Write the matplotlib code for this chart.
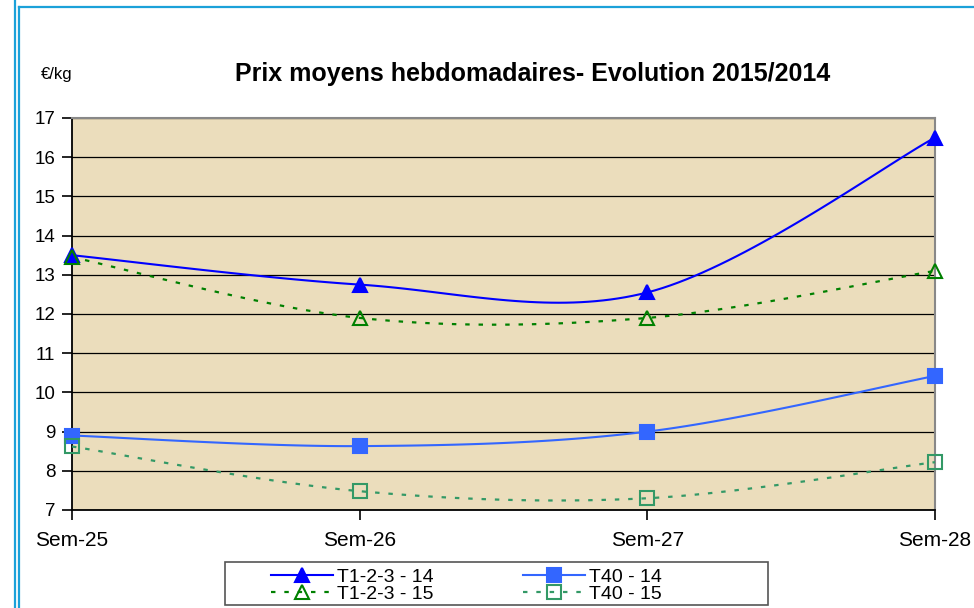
import numpy as np
import matplotlib.pyplot as plt
from matplotlib.lines import Line2D
from matplotlib.patches import Rectangle

plt.rcParams['font.family'] = ['Liberation Sans', 'DejaVu Sans']

# Data
weeks = ['Sem-25', 'Sem-26', 'Sem-27', 'Sem-28']
t123_14 = [13.5, 12.75, 12.55, 16.5]
t40_14 = [8.9, 8.63, 9.0, 10.42]
t123_15 = [13.45, 11.9, 11.9, 13.1]
t40_15 = [8.62, 7.48, 7.3, 8.22]


def smooth(xs, ys, n=40):
    # Excel-like smoothing: Catmull-Rom style bezier between points
    p = np.column_stack([xs, ys]).astype(float)
    p_ext = np.vstack([p[0], p, p[-1]])
    out = []
    for i in range(len(p) - 1):
        p0, p1, p2, p3 = p_ext[i], p_ext[i + 1], p_ext[i + 2], p_ext[i + 3]
        c1 = p1 + (p2 - p0) / 6
        c2 = p2 - (p3 - p1) / 6
        t = np.linspace(0, 1, n)[:, None]
        seg = ((1 - t) ** 3) * p1 + 3 * ((1 - t) ** 2) * t * c1 + 3 * (1 - t) * t ** 2 * c2 + t ** 3 * p2
        out.append(seg if i == 0 else seg[1:])
    out = np.vstack(out)
    return out[:, 0], out[:, 1]


x = np.arange(len(weeks))

fig = plt.figure(figsize=(9.74, 6.08), dpi=100)
ax = fig.add_axes([72 / 974, 98 / 608, (935 - 72) / 974, (510 - 118) / 608])
ax.set_facecolor('#EBDDBC')

series = [
    (t123_14, '#0000FF', '-', '^', '#0000FF', 'T1-2-3 - 14', 1.5),
    (t123_15, '#008000', (0, (2, 4)), '^', 'none', 'T1-2-3 - 15', 1.6),
    (t40_14, '#3366FF', '-', 's', '#3366FF', 'T40 - 14', 1.5),
    (t40_15, '#339966', (0, (2, 4)), 's', 'none', 'T40 - 15', 1.6),
]

handles = []
for ys, col, ls, mk, fc, lab, lw in series:
    sx, sy = smooth(x, ys)
    ax.plot(sx, sy, color=col, linestyle=ls, linewidth=lw, zorder=3, clip_on=False)
    ax.plot(x, ys, linestyle='none', marker=mk, markersize=10,
            markerfacecolor=fc, markeredgecolor=col, markeredgewidth=1.5,
            zorder=4, clip_on=False)
    handles.append(Line2D([], [], color=col, linestyle=ls, linewidth=lw, marker=mk,
                          markersize=10, markerfacecolor=fc, markeredgecolor=col,
                          markeredgewidth=1.5, label=lab))

ax.set_xlim(0, 3)
ax.set_ylim(7, 17)
ax.set_yticks(range(7, 18))
ax.set_xticks(x)
ax.set_xticklabels(weeks)
ax.yaxis.grid(True, color='black', linewidth=0.9)
ax.set_axisbelow(True)
ax.tick_params(axis='both', direction='out', length=7, width=1.2, color='black')
ax.tick_params(axis='x', labelsize=15, pad=8)
ax.tick_params(axis='y', labelsize=13.5, pad=5)

ax.spines['left'].set_color('black')
ax.spines['left'].set_linewidth(1.3)
ax.spines['bottom'].set_color('black')
ax.spines['bottom'].set_linewidth(1.3)
ax.spines['top'].set_color('#888888')
ax.spines['right'].set_color('#888888')
ax.spines['top'].set_linewidth(1.5)
ax.spines['right'].set_linewidth(1.5)

fig.text(533 / 974, 1 - 74 / 608, 'Prix moyens hebdomadaires- Evolution 2015/2014',
         ha='center', va='center', fontsize=18, fontweight='bold')
fig.text(41 / 974, 1 - 74 / 608, '€/kg', ha='left', va='center', fontsize=12)

# legend box drawn separately, entries placed inside
fig.add_artist(Rectangle((225 / 974, 1 - 605 / 608), 543 / 974, 43 / 608,
                         transform=fig.transFigure, facecolor='white',
                         edgecolor='#555555', linewidth=1.2))
leg = fig.legend(handles=handles, ncol=2, loc='upper left',
                 bbox_to_anchor=(271 / 974, 1 - 568 / 608), fontsize=14,
                 frameon=False, handlelength=3.2, columnspacing=4.6,
                 labelspacing=0.0, borderpad=0, handletextpad=0.2,
                 borderaxespad=0)

# outer blue frame
frame_col = '#1BA1D9'
fig.add_artist(Line2D([15 / 974, 15 / 974], [0, 1], color=frame_col, linewidth=1.6))
fig.add_artist(Line2D([19 / 974, 19 / 974], [0, 1 - 7 / 608], color=frame_col, linewidth=1.6))
fig.add_artist(Line2D([19 / 974, 1], [1 - 7 / 608, 1 - 7 / 608], color=frame_col, linewidth=1.6))

fig.savefig('out.png', dpi=100)
